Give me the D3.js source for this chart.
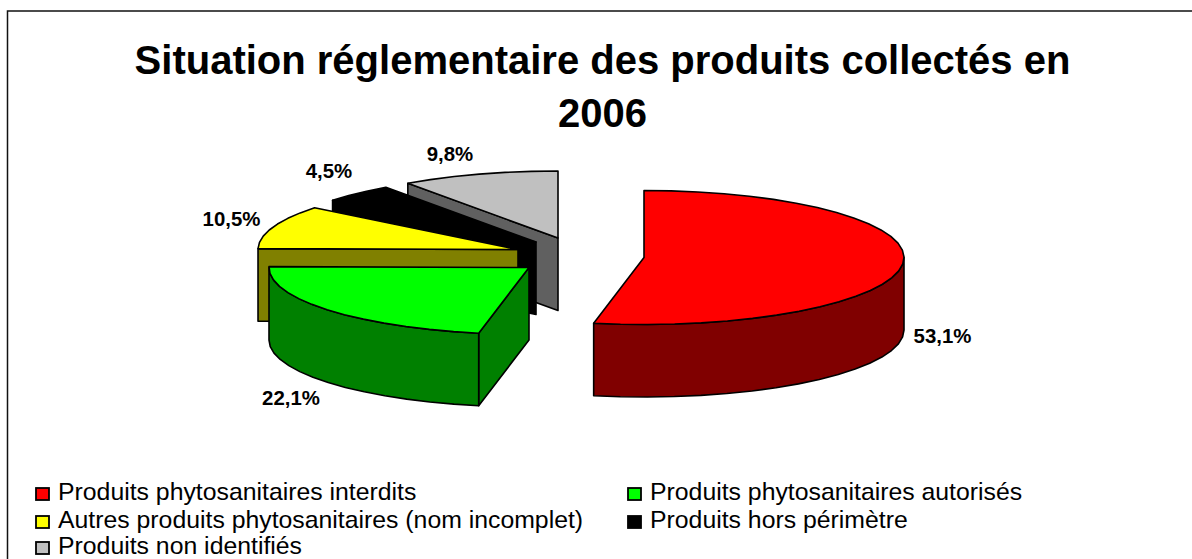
<!DOCTYPE html>
<html><head><meta charset="utf-8">
<script src="https://d3js.org/d3.v7.min.js"></script>
<style>html,body{margin:0;padding:0;background:#fff}svg{display:block}text{font-family:"Liberation Sans",Arial,sans-serif;fill:#000}</style>
</head><body><div id="c"></div>
<script>
const categories=["Produits phytosanitaires interdits","Produits phytosanitaires autorisés","Autres produits phytosanitaires (nom incomplet)","Produits hors périmètre","Produits non identifiés"];
const values=[53.1,22.1,10.5,4.5,9.8];
const valueLabels=["53,1%","22,1%","10,5%","4,5%","9,8%"];
const topColors=["#ff0000","#00ff00","#ffff00","#000000","#c0c0c0"];
const sideColors=["#800000","#008000","#808000","#000000","#606060"];
const titleLines=["Situation réglementaire des produits collectés en","2006"];

const W=1192,H=559;
const svg=d3.select("#c").append("svg").attr("width",W).attr("height",H);
svg.append("path").attr("d",d3.line()([[7.5,H],[7.5,11],[W,11]])).attr("fill","none").attr("stroke","#111").attr("stroke-width",1.5);

svg.selectAll("text.title").data(titleLines).enter().append("text").attr("class","title")
  .attr("x",602.5).attr("y",(d,i)=>73.5+i*53.5).attr("text-anchor","middle")
  .attr("font-size",40).attr("font-weight","bold").text(d=>d);

const rx=260,ry=67,depth=72.5;
// explosion: pie centres per slice
const centers=[[644,257.5],[529,267.5],[518,249.5],[536,242],[558,238]];
const sx=d3.scaleLinear().domain([-1,1]).range([-rx,rx]);
const sy=d3.scaleLinear().domain([-1,1]).range([-ry,ry]);
const pie=d3.pie().sort(null).value(d=>d);
const arcs=pie(values);
const line=d3.line();
const stepA=Math.PI/30;
function arcPts(i,a,b,dz){
  const [cx,cy]=centers[i],pts=[];
  const n=Math.max(1,Math.ceil((b-a)/stepA));
  for(let k=0;k<=n;k++){const t=a+(b-a)*k/n;pts.push([cx+sx(Math.sin(t)),cy-sy(Math.cos(t))+dz]);}
  return pts;
}
const g=svg.append("g").attr("stroke","#000").attr("stroke-width",1.6).attr("stroke-linejoin","round");
[4,3,2,1,0].forEach(i=>{
  const a=arcs[i].startAngle,b=arcs[i].endAngle,[cx,cy]=centers[i];
  const wall=t=>{
    const p=[cx+sx(Math.sin(t)),cy-sy(Math.cos(t))];
    g.append("path").attr("fill",sideColors[i]).attr("d",line([[cx,cy],p,[p[0],p[1]+depth],[cx,cy+depth]])+"Z");
  };
  if(Math.sin(a)<-1e-6) wall(a);
  if(Math.sin(b)>1e-6) wall(b);
  const lo=Math.max(a,Math.PI/2),hi=Math.min(b,3*Math.PI/2);
  if(hi>lo){
    const pts=arcPts(i,lo,hi,0).concat(arcPts(i,lo,hi,depth).reverse());
    g.append("path").attr("fill",sideColors[i]).attr("d",line(pts)+"Z");
  }
  g.append("path").attr("fill",topColors[i]).attr("d",line([[cx,cy]].concat(arcPts(i,a,b,0)))+"Z");
});

const labelPos=[[942.5,343],[291,405],[231.5,226],[329,178],[450,161]];
svg.selectAll("text.val").data(valueLabels).enter().append("text").attr("class","val")
  .attr("x",(d,i)=>labelPos[i][0]).attr("y",(d,i)=>labelPos[i][1]).attr("text-anchor","middle")
  .attr("font-size",20.4).attr("font-weight","bold").text(d=>d);

const legendX=[36,628],legendY=[500,528,554];
categories.forEach((c,i)=>{
  const col=i%2,row=Math.floor(i/2);
  const y=legendY[row];
  svg.append("rect").attr("x",legendX[col]).attr("y",y-12).attr("width",13).attr("height",12).attr("fill",topColors[i]).attr("stroke","#000").attr("stroke-width",1.8);
  svg.append("text").attr("x",legendX[col]+22).attr("y",y).attr("font-size",24.8).text(c);
});
</script></body></html>
